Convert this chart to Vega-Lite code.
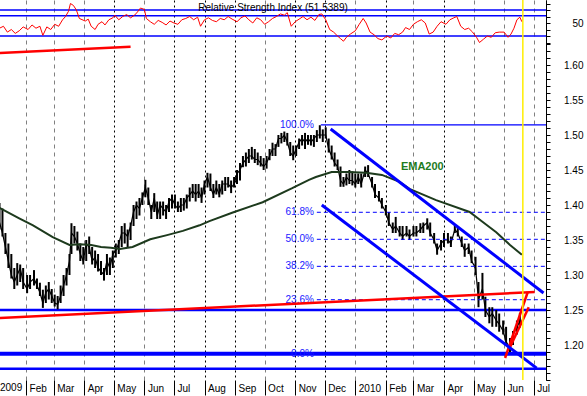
{
  "$schema": "https://vega.github.io/schema/vega-lite/v6.json",
  "width": 546,
  "height": 380,
  "autosize": {"type": "none"},
  "padding": {"left": 0, "top": 0, "right": 41, "bottom": 16},
  "background": "white",
  "config": {
    "view": {"stroke": null},
    "axis": {"labelFont": "Liberation Sans", "labelFontSize": 10, "labelColor": "black"},
    "text": {"font": "Liberation Sans"}
  },
  "resolve": {"scale": {"y": "independent"}, "axis": {"y": "independent"}},
  "datasets": {
    "price": [
      {"date":"2009-01-05","lo":1.365,"hi":1.403,"c":1.375},
      {"date":"2009-01-08","lo":1.355,"hi":1.395,"c":1.36},
      {"date":"2009-01-11","lo":1.33,"hi":1.36,"c":1.34},
      {"date":"2009-01-14","lo":1.31,"hi":1.345,"c":1.32},
      {"date":"2009-01-17","lo":1.295,"hi":1.33,"c":1.30},
      {"date":"2009-01-20","lo":1.28,"hi":1.31,"c":1.29},
      {"date":"2009-01-23","lo":1.285,"hi":1.317,"c":1.30},
      {"date":"2009-01-26","lo":1.29,"hi":1.315,"c":1.31},
      {"date":"2009-01-29","lo":1.28,"hi":1.31,"c":1.29},
      {"date":"2009-02-02","lo":1.274,"hi":1.30,"c":1.28},
      {"date":"2009-02-05","lo":1.28,"hi":1.30,"c":1.29},
      {"date":"2009-02-09","lo":1.285,"hi":1.307,"c":1.295},
      {"date":"2009-02-12","lo":1.28,"hi":1.295,"c":1.285},
      {"date":"2009-02-15","lo":1.27,"hi":1.289,"c":1.275},
      {"date":"2009-02-18","lo":1.253,"hi":1.279,"c":1.26},
      {"date":"2009-02-21","lo":1.26,"hi":1.285,"c":1.275},
      {"date":"2009-02-24","lo":1.265,"hi":1.29,"c":1.28},
      {"date":"2009-02-27","lo":1.26,"hi":1.28,"c":1.27},
      {"date":"2009-03-02","lo":1.255,"hi":1.272,"c":1.26},
      {"date":"2009-03-05","lo":1.251,"hi":1.27,"c":1.258},
      {"date":"2009-03-08","lo":1.26,"hi":1.285,"c":1.27},
      {"date":"2009-03-11","lo":1.27,"hi":1.30,"c":1.285},
      {"date":"2009-03-14","lo":1.285,"hi":1.31,"c":1.30},
      {"date":"2009-03-17","lo":1.30,"hi":1.33,"c":1.32},
      {"date":"2009-03-19","lo":1.33,"hi":1.374,"c":1.36},
      {"date":"2009-03-22","lo":1.345,"hi":1.37,"c":1.355},
      {"date":"2009-03-25","lo":1.335,"hi":1.362,"c":1.345},
      {"date":"2009-03-28","lo":1.32,"hi":1.345,"c":1.33},
      {"date":"2009-03-31","lo":1.315,"hi":1.34,"c":1.32},
      {"date":"2009-04-03","lo":1.32,"hi":1.35,"c":1.345},
      {"date":"2009-04-06","lo":1.33,"hi":1.355,"c":1.34},
      {"date":"2009-04-09","lo":1.315,"hi":1.34,"c":1.32},
      {"date":"2009-04-12","lo":1.31,"hi":1.335,"c":1.325},
      {"date":"2009-04-15","lo":1.305,"hi":1.33,"c":1.31},
      {"date":"2009-04-18","lo":1.30,"hi":1.32,"c":1.305},
      {"date":"2009-04-21","lo":1.292,"hi":1.31,"c":1.30},
      {"date":"2009-04-24","lo":1.30,"hi":1.33,"c":1.32},
      {"date":"2009-04-27","lo":1.30,"hi":1.325,"c":1.31},
      {"date":"2009-04-30","lo":1.31,"hi":1.335,"c":1.33},
      {"date":"2009-05-03","lo":1.325,"hi":1.345,"c":1.335},
      {"date":"2009-05-06","lo":1.33,"hi":1.35,"c":1.345},
      {"date":"2009-05-09","lo":1.34,"hi":1.37,"c":1.36},
      {"date":"2009-05-12","lo":1.345,"hi":1.374,"c":1.36},
      {"date":"2009-05-15","lo":1.34,"hi":1.365,"c":1.355},
      {"date":"2009-05-18","lo":1.35,"hi":1.375,"c":1.37},
      {"date":"2009-05-21","lo":1.37,"hi":1.40,"c":1.39},
      {"date":"2009-05-24","lo":1.38,"hi":1.405,"c":1.40},
      {"date":"2009-05-27","lo":1.385,"hi":1.41,"c":1.395},
      {"date":"2009-05-30","lo":1.40,"hi":1.418,"c":1.41},
      {"date":"2009-06-02","lo":1.411,"hi":1.436,"c":1.425},
      {"date":"2009-06-05","lo":1.40,"hi":1.425,"c":1.41},
      {"date":"2009-06-08","lo":1.38,"hi":1.40,"c":1.39},
      {"date":"2009-06-11","lo":1.39,"hi":1.417,"c":1.41},
      {"date":"2009-06-14","lo":1.38,"hi":1.405,"c":1.385},
      {"date":"2009-06-17","lo":1.38,"hi":1.405,"c":1.40},
      {"date":"2009-06-20","lo":1.385,"hi":1.405,"c":1.395},
      {"date":"2009-06-23","lo":1.38,"hi":1.40,"c":1.39},
      {"date":"2009-06-26","lo":1.39,"hi":1.41,"c":1.405},
      {"date":"2009-06-29","lo":1.395,"hi":1.415,"c":1.41},
      {"date":"2009-07-02","lo":1.395,"hi":1.415,"c":1.40},
      {"date":"2009-07-05","lo":1.39,"hi":1.405,"c":1.395},
      {"date":"2009-07-08","lo":1.39,"hi":1.41,"c":1.40},
      {"date":"2009-07-11","lo":1.392,"hi":1.41,"c":1.40},
      {"date":"2009-07-14","lo":1.395,"hi":1.415,"c":1.41},
      {"date":"2009-07-17","lo":1.405,"hi":1.425,"c":1.415},
      {"date":"2009-07-20","lo":1.41,"hi":1.43,"c":1.42},
      {"date":"2009-07-23","lo":1.405,"hi":1.43,"c":1.415},
      {"date":"2009-07-26","lo":1.41,"hi":1.43,"c":1.42},
      {"date":"2009-07-29","lo":1.403,"hi":1.425,"c":1.41},
      {"date":"2009-08-01","lo":1.415,"hi":1.435,"c":1.43},
      {"date":"2009-08-04","lo":1.425,"hi":1.446,"c":1.44},
      {"date":"2009-08-07","lo":1.42,"hi":1.445,"c":1.425},
      {"date":"2009-08-10","lo":1.41,"hi":1.43,"c":1.415},
      {"date":"2009-08-13","lo":1.415,"hi":1.435,"c":1.425},
      {"date":"2009-08-16","lo":1.411,"hi":1.43,"c":1.415},
      {"date":"2009-08-19","lo":1.415,"hi":1.435,"c":1.43},
      {"date":"2009-08-22","lo":1.42,"hi":1.44,"c":1.43},
      {"date":"2009-08-25","lo":1.425,"hi":1.44,"c":1.43},
      {"date":"2009-08-28","lo":1.417,"hi":1.435,"c":1.425},
      {"date":"2009-08-31","lo":1.425,"hi":1.44,"c":1.43},
      {"date":"2009-09-03","lo":1.43,"hi":1.45,"c":1.445},
      {"date":"2009-09-06","lo":1.435,"hi":1.46,"c":1.45},
      {"date":"2009-09-09","lo":1.454,"hi":1.47,"c":1.46},
      {"date":"2009-09-12","lo":1.455,"hi":1.475,"c":1.465},
      {"date":"2009-09-15","lo":1.46,"hi":1.48,"c":1.47},
      {"date":"2009-09-18","lo":1.465,"hi":1.483,"c":1.47},
      {"date":"2009-09-21","lo":1.46,"hi":1.48,"c":1.465},
      {"date":"2009-09-24","lo":1.457,"hi":1.475,"c":1.465},
      {"date":"2009-09-27","lo":1.455,"hi":1.47,"c":1.46},
      {"date":"2009-09-30","lo":1.45,"hi":1.467,"c":1.455},
      {"date":"2009-10-03","lo":1.452,"hi":1.47,"c":1.46},
      {"date":"2009-10-06","lo":1.464,"hi":1.48,"c":1.47},
      {"date":"2009-10-09","lo":1.47,"hi":1.489,"c":1.48},
      {"date":"2009-10-12","lo":1.47,"hi":1.487,"c":1.48},
      {"date":"2009-10-15","lo":1.483,"hi":1.50,"c":1.495},
      {"date":"2009-10-18","lo":1.488,"hi":1.503,"c":1.495},
      {"date":"2009-10-21","lo":1.49,"hi":1.505,"c":1.50},
      {"date":"2009-10-24","lo":1.485,"hi":1.503,"c":1.49},
      {"date":"2009-10-27","lo":1.47,"hi":1.49,"c":1.475},
      {"date":"2009-10-30","lo":1.464,"hi":1.485,"c":1.47},
      {"date":"2009-11-02","lo":1.47,"hi":1.485,"c":1.48},
      {"date":"2009-11-05","lo":1.48,"hi":1.495,"c":1.49},
      {"date":"2009-11-08","lo":1.485,"hi":1.50,"c":1.495},
      {"date":"2009-11-11","lo":1.48,"hi":1.503,"c":1.49},
      {"date":"2009-11-14","lo":1.486,"hi":1.50,"c":1.495},
      {"date":"2009-11-17","lo":1.485,"hi":1.50,"c":1.49},
      {"date":"2009-11-20","lo":1.483,"hi":1.50,"c":1.495},
      {"date":"2009-11-23","lo":1.49,"hi":1.507,"c":1.50},
      {"date":"2009-11-26","lo":1.495,"hi":1.514,"c":1.50},
      {"date":"2009-11-29","lo":1.49,"hi":1.508,"c":1.50},
      {"date":"2009-12-02","lo":1.495,"hi":1.511,"c":1.50},
      {"date":"2009-12-05","lo":1.475,"hi":1.495,"c":1.48},
      {"date":"2009-12-08","lo":1.465,"hi":1.485,"c":1.47},
      {"date":"2009-12-11","lo":1.455,"hi":1.475,"c":1.46},
      {"date":"2009-12-14","lo":1.45,"hi":1.465,"c":1.455},
      {"date":"2009-12-17","lo":1.426,"hi":1.455,"c":1.435},
      {"date":"2009-12-20","lo":1.426,"hi":1.44,"c":1.43},
      {"date":"2009-12-23","lo":1.428,"hi":1.445,"c":1.44},
      {"date":"2009-12-26","lo":1.43,"hi":1.45,"c":1.435},
      {"date":"2009-12-29","lo":1.428,"hi":1.448,"c":1.435},
      {"date":"2010-01-01","lo":1.425,"hi":1.445,"c":1.43},
      {"date":"2010-01-04","lo":1.43,"hi":1.445,"c":1.44},
      {"date":"2010-01-07","lo":1.425,"hi":1.445,"c":1.43},
      {"date":"2010-01-11","lo":1.44,"hi":1.455,"c":1.45},
      {"date":"2010-01-14","lo":1.44,"hi":1.457,"c":1.445},
      {"date":"2010-01-18","lo":1.425,"hi":1.44,"c":1.43},
      {"date":"2010-01-21","lo":1.41,"hi":1.43,"c":1.415},
      {"date":"2010-01-25","lo":1.405,"hi":1.42,"c":1.41},
      {"date":"2010-01-28","lo":1.395,"hi":1.41,"c":1.40},
      {"date":"2010-02-01","lo":1.385,"hi":1.40,"c":1.39},
      {"date":"2010-02-04","lo":1.37,"hi":1.39,"c":1.375},
      {"date":"2010-02-08","lo":1.36,"hi":1.375,"c":1.365},
      {"date":"2010-02-11","lo":1.36,"hi":1.383,"c":1.37},
      {"date":"2010-02-15","lo":1.355,"hi":1.37,"c":1.36},
      {"date":"2010-02-18","lo":1.35,"hi":1.37,"c":1.355},
      {"date":"2010-02-22","lo":1.355,"hi":1.37,"c":1.36},
      {"date":"2010-02-25","lo":1.35,"hi":1.365,"c":1.355},
      {"date":"2010-03-01","lo":1.355,"hi":1.37,"c":1.36},
      {"date":"2010-03-04","lo":1.355,"hi":1.37,"c":1.36},
      {"date":"2010-03-08","lo":1.36,"hi":1.374,"c":1.365},
      {"date":"2010-03-11","lo":1.36,"hi":1.375,"c":1.37},
      {"date":"2010-03-15","lo":1.365,"hi":1.381,"c":1.375},
      {"date":"2010-03-18","lo":1.355,"hi":1.375,"c":1.36},
      {"date":"2010-03-22","lo":1.345,"hi":1.36,"c":1.35},
      {"date":"2010-03-25","lo":1.329,"hi":1.345,"c":1.335},
      {"date":"2010-03-29","lo":1.335,"hi":1.35,"c":1.345},
      {"date":"2010-04-01","lo":1.34,"hi":1.36,"c":1.35},
      {"date":"2010-04-05","lo":1.345,"hi":1.36,"c":1.35},
      {"date":"2010-04-08","lo":1.34,"hi":1.355,"c":1.345},
      {"date":"2010-04-12","lo":1.36,"hi":1.371,"c":1.365},
      {"date":"2010-04-15","lo":1.355,"hi":1.37,"c":1.36},
      {"date":"2010-04-19","lo":1.34,"hi":1.355,"c":1.345},
      {"date":"2010-04-22","lo":1.326,"hi":1.345,"c":1.335},
      {"date":"2010-04-26","lo":1.33,"hi":1.345,"c":1.34},
      {"date":"2010-04-29","lo":1.317,"hi":1.335,"c":1.32},
      {"date":"2010-05-03","lo":1.30,"hi":1.326,"c":1.31},
      {"date":"2010-05-06","lo":1.254,"hi":1.29,"c":1.265},
      {"date":"2010-05-10","lo":1.265,"hi":1.303,"c":1.28},
      {"date":"2010-05-13","lo":1.24,"hi":1.269,"c":1.25},
      {"date":"2010-05-17","lo":1.231,"hi":1.254,"c":1.24},
      {"date":"2010-05-20","lo":1.226,"hi":1.254,"c":1.245},
      {"date":"2010-05-24","lo":1.226,"hi":1.25,"c":1.235},
      {"date":"2010-05-27","lo":1.219,"hi":1.245,"c":1.23},
      {"date":"2010-05-31","lo":1.215,"hi":1.235,"c":1.22},
      {"date":"2010-06-03","lo":1.20,"hi":1.226,"c":1.205},
      {"date":"2010-06-07","lo":1.19,"hi":1.21,"c":1.195},
      {"date":"2010-06-10","lo":1.20,"hi":1.22,"c":1.215},
      {"date":"2010-06-14","lo":1.215,"hi":1.235,"c":1.225},
      {"date":"2010-06-17","lo":1.225,"hi":1.246,"c":1.235}
    ],
    "ema": [
      {"date":"2009-01-05","v":1.396},
      {"date":"2009-01-25","v":1.381},
      {"date":"2009-02-08","v":1.371},
      {"date":"2009-02-28","v":1.354},
      {"date":"2009-03-17","v":1.343},
      {"date":"2009-03-27","v":1.344},
      {"date":"2009-04-08","v":1.343},
      {"date":"2009-04-18","v":1.340},
      {"date":"2009-04-28","v":1.339},
      {"date":"2009-05-07","v":1.337},
      {"date":"2009-05-20","v":1.340},
      {"date":"2009-06-07","v":1.351},
      {"date":"2009-06-24","v":1.357},
      {"date":"2009-07-10","v":1.363},
      {"date":"2009-07-27","v":1.371},
      {"date":"2009-08-06","v":1.377},
      {"date":"2009-08-29","v":1.389},
      {"date":"2009-09-29","v":1.404},
      {"date":"2009-10-29","v":1.424},
      {"date":"2009-11-15","v":1.436},
      {"date":"2009-11-22","v":1.440},
      {"date":"2009-12-08","v":1.447},
      {"date":"2009-12-25","v":1.447},
      {"date":"2010-01-12","v":1.446},
      {"date":"2010-01-28","v":1.443},
      {"date":"2010-02-15","v":1.433},
      {"date":"2010-02-25","v":1.423},
      {"date":"2010-03-24","v":1.407},
      {"date":"2010-04-27","v":1.390},
      {"date":"2010-05-10","v":1.376},
      {"date":"2010-05-24","v":1.361},
      {"date":"2010-06-07","v":1.343},
      {"date":"2010-06-19","v":1.329}
    ],
    "rsi": [
      {"date":"2009-01-05","r":42},{"date":"2009-01-09","r":45},{"date":"2009-01-13","r":36},
      {"date":"2009-01-17","r":40},{"date":"2009-01-21","r":34},{"date":"2009-01-25","r":38},
      {"date":"2009-01-29","r":44},{"date":"2009-02-03","r":40},{"date":"2009-02-07","r":47},
      {"date":"2009-02-11","r":42},{"date":"2009-02-15","r":45},{"date":"2009-02-18","r":31},
      {"date":"2009-02-22","r":44},{"date":"2009-02-26","r":40},{"date":"2009-03-02","r":48},
      {"date":"2009-03-06","r":45},{"date":"2009-03-10","r":55},{"date":"2009-03-13","r":60},
      {"date":"2009-03-16","r":68},{"date":"2009-03-18","r":80},{"date":"2009-03-21","r":77},
      {"date":"2009-03-24","r":70},{"date":"2009-03-27","r":57},{"date":"2009-04-02","r":53},
      {"date":"2009-04-05","r":56},{"date":"2009-04-08","r":45},{"date":"2009-04-12","r":40},
      {"date":"2009-04-15","r":48},{"date":"2009-04-19","r":52},{"date":"2009-04-22","r":47},
      {"date":"2009-04-26","r":55},{"date":"2009-04-30","r":58},{"date":"2009-05-02","r":62},
      {"date":"2009-05-06","r":55},{"date":"2009-05-10","r":60},{"date":"2009-05-14","r":63},
      {"date":"2009-05-18","r":58},{"date":"2009-05-22","r":62},{"date":"2009-05-25","r":67},
      {"date":"2009-05-28","r":73},{"date":"2009-06-01","r":71},{"date":"2009-06-03","r":57},
      {"date":"2009-06-07","r":52},{"date":"2009-06-11","r":48},{"date":"2009-06-15","r":54},
      {"date":"2009-06-19","r":51},{"date":"2009-06-23","r":47},{"date":"2009-06-27","r":53},
      {"date":"2009-07-01","r":50},{"date":"2009-07-05","r":48},{"date":"2009-07-09","r":55},
      {"date":"2009-07-13","r":57},{"date":"2009-07-17","r":60},{"date":"2009-07-21","r":55},
      {"date":"2009-07-25","r":59},{"date":"2009-07-28","r":45},{"date":"2009-08-01","r":55},
      {"date":"2009-08-05","r":58},{"date":"2009-08-09","r":54},{"date":"2009-08-13","r":52},
      {"date":"2009-08-17","r":57},{"date":"2009-08-21","r":55},{"date":"2009-08-25","r":60},
      {"date":"2009-08-29","r":56},{"date":"2009-09-03","r":52},{"date":"2009-09-07","r":58},
      {"date":"2009-09-11","r":61},{"date":"2009-09-15","r":55},{"date":"2009-09-19","r":50},
      {"date":"2009-09-23","r":58},{"date":"2009-09-27","r":55},{"date":"2009-10-01","r":48},
      {"date":"2009-10-05","r":52},{"date":"2009-10-09","r":57},{"date":"2009-10-13","r":60},
      {"date":"2009-10-17","r":64},{"date":"2009-10-21","r":62},{"date":"2009-10-24","r":66},
      {"date":"2009-10-28","r":45},{"date":"2009-11-01","r":52},{"date":"2009-11-05","r":56},
      {"date":"2009-11-09","r":60},{"date":"2009-11-13","r":55},{"date":"2009-11-17","r":59},
      {"date":"2009-11-21","r":54},{"date":"2009-11-25","r":63},{"date":"2009-11-28","r":64},
      {"date":"2009-12-02","r":55},{"date":"2009-12-06","r":40},{"date":"2009-12-10","r":36},
      {"date":"2009-12-14","r":30},{"date":"2009-12-17","r":26},{"date":"2009-12-20","r":22},
      {"date":"2009-12-23","r":28},{"date":"2009-12-27","r":33},{"date":"2010-01-01","r":38},
      {"date":"2010-01-05","r":48},{"date":"2010-01-09","r":57},{"date":"2010-01-12","r":50},
      {"date":"2010-01-16","r":36},{"date":"2010-01-20","r":32},{"date":"2010-01-24","r":26},
      {"date":"2010-01-28","r":24},{"date":"2010-02-02","r":30},{"date":"2010-02-06","r":27},
      {"date":"2010-02-10","r":34},{"date":"2010-02-14","r":32},{"date":"2010-02-18","r":36},
      {"date":"2010-02-21","r":43},{"date":"2010-02-25","r":40},{"date":"2010-03-01","r":48},
      {"date":"2010-03-05","r":52},{"date":"2010-03-09","r":55},{"date":"2010-03-13","r":50},
      {"date":"2010-03-17","r":33},{"date":"2010-03-21","r":36},{"date":"2010-03-25","r":45},
      {"date":"2010-03-29","r":52},{"date":"2010-04-03","r":48},{"date":"2010-04-07","r":55},
      {"date":"2010-04-11","r":58},{"date":"2010-04-14","r":60},{"date":"2010-04-18","r":45},
      {"date":"2010-04-22","r":40},{"date":"2010-04-26","r":42},{"date":"2010-04-30","r":36},
      {"date":"2010-05-04","r":28},{"date":"2010-05-07","r":20},{"date":"2010-05-11","r":25},
      {"date":"2010-05-15","r":30},{"date":"2010-05-19","r":28},{"date":"2010-05-23","r":35},
      {"date":"2010-05-27","r":36},{"date":"2010-06-01","r":36},{"date":"2010-06-05","r":28},
      {"date":"2010-06-08","r":33},{"date":"2010-06-11","r":42},{"date":"2010-06-14","r":55},
      {"date":"2010-06-17","r":59},{"date":"2010-06-19","r":52}
    ],
    "fib": [
      {"label":"100.0%","p":1.5144},
      {"label":"61.8%","p":1.3896},
      {"label":"50.0%","p":1.351},
      {"label":"38.2%","p":1.3124},
      {"label":"23.6%","p":1.2647},
      {"label":"0.0%","p":1.1876}
    ],
    "trend_blue": [
      {"line":"upper","date":"2009-12-07","p":1.5086},
      {"line":"upper","date":"2010-07-11","p":1.2743},
      {"line":"lower","date":"2009-11-28","p":1.400},
      {"line":"lower","date":"2010-07-04","p":1.167}
    ],
    "trend_red": [
      {"line":"support","date":"2009-01-05","p":1.2386},
      {"line":"support","date":"2010-07-02","p":1.2757},
      {"line":"top","date":"2009-01-05","p":1.617},
      {"line":"top","date":"2009-05-18","p":1.626},
      {"line":"wedgeA","date":"2010-06-02","p":1.1814},
      {"line":"wedgeA","date":"2010-06-25","p":1.2757},
      {"line":"wedgeB","date":"2010-06-07","p":1.197},
      {"line":"wedgeB","date":"2010-06-26","p":1.254}
    ]
  },
  "layer": [
    {
      "layer": [
        {
          "data": {"values": [{"lvl": 70}, {"lvl": 61}, {"lvl": 30}]},
          "mark": {"type": "rule", "color": "#0000ff", "strokeWidth": 1.5},
          "encoding": {
            "y": {"field": "lvl", "type": "quantitative", "title": null,
              "scale": {"domain": [-499.2, 85.4], "nice": false, "zero": false},
              "axis": {"orient": "right", "title": null, "values": [20, 30, 40, 50, 60, 70, 80], "tickCount": 50,
                "labelExpr": "datum.value == 50 ? '50' : ''", "tickSize": 4, "tickColor": "black",
                "domainColor": "black", "labelAlign": "right", "labelPadding": 33, "grid": false,
                "labelOverlap": false, "labelFlush": false, "labelBound": false}}
          }
        },
        {
          "data": {"name": "rsi"},
          "mark": {"type": "line", "color": "#ff0000", "strokeWidth": 1},
          "encoding": {
            "x": {"field": "date", "type": "temporal", "title": null},
            "y": {"field": "r", "type": "quantitative", "title": null}
          }
        },
        {
          "data": {"values": [{"t": "Relative Strength Index (51.5389)"}]},
          "mark": {"type": "text", "fontSize": 10, "color": "black", "align": "center", "baseline": "middle"},
          "encoding": {
            "text": {"field": "t"},
            "x": {"datum": {"year": 2009, "month": 10, "date": 9, "hours": 12}, "type": "temporal", "title": null},
            "y": {"datum": 73, "type": "quantitative", "title": null}
          }
        }
      ]
    },
    {
      "layer": [
        {
          "data": {"values": [{"p": 1.25}, {"p": 1.166}]},
          "mark": {"type": "rule", "color": "#0000ff", "strokeWidth": 2.5},
          "encoding": {
            "y": {"field": "p", "type": "quantitative", "title": null,
              "scale": {"domain": [1.15, 1.6929], "nice": false, "zero": false},
              "axis": {"orient": "right", "title": null, "tickCount": 200,
                "values": [1.15,1.16,1.17,1.18,1.19,1.2,1.21,1.22,1.23,1.24,1.25,1.26,1.27,1.28,1.29,1.3,1.31,1.32,1.33,1.34,1.35,1.36,1.37,1.38,1.39,1.4,1.41,1.42,1.43,1.44,1.45,1.46,1.47,1.48,1.49,1.5,1.51,1.52,1.53,1.54,1.55,1.56,1.57,1.58,1.59,1.6,1.61,1.62,1.63],
                "labelExpr": "(datum.value > 1.17 && datum.value < 1.62 && abs(round(datum.value*100) % 5) == 0) ? format(datum.value, '.2f') : ''",
                "tickSize": 4, "tickColor": "black", "domainColor": "black", "labelAlign": "right", "labelPadding": 33,
                "grid": false, "labelOverlap": false, "labelFlush": false, "labelBound": false}}
          }
        },
        {
          "data": {"values": [{"p": 1.1876}]},
          "mark": {"type": "rule", "color": "#0000ff", "strokeWidth": 4},
          "encoding": {"y": {"field": "p", "type": "quantitative", "title": null}}
        },
        {
          "data": {"name": "price"},
          "mark": {"type": "rule", "color": "black", "strokeWidth": 2},
          "encoding": {
            "x": {"field": "date", "type": "temporal", "title": null,
              "scale": {"domain": [{"year": 2009, "month": 1, "date": 5, "hours": 12}, {"year": 2010, "month": 7, "date": 13, "hours": 12}], "nice": false},
              "axis": {"title": null, "orient": "bottom", "domain": false, "grid": true, "tickCount": 60,
                "values": [{"year":2009,"month":2,"date":1},{"year":2009,"month":3,"date":1},{"year":2009,"month":4,"date":1},{"year":2009,"month":5,"date":1},{"year":2009,"month":6,"date":1},{"year":2009,"month":7,"date":1},{"year":2009,"month":8,"date":1},{"year":2009,"month":9,"date":1},{"year":2009,"month":10,"date":1},{"year":2009,"month":11,"date":1},{"year":2009,"month":12,"date":1},{"year":2010,"month":1,"date":1},{"year":2010,"month":2,"date":1},{"year":2010,"month":3,"date":1},{"year":2010,"month":4,"date":1},{"year":2010,"month":5,"date":1},{"year":2010,"month":6,"date":1},{"year":2010,"month":7,"date":1}],
                "gridColor": {"condition": {"test": "indexof([4,6,7,8,10,11,13,15], (year(datum.value)-2009)*12+month(datum.value)) >= 0", "value": "#000000"}, "value": "#808080"},
                "gridDash": {"condition": {"test": "indexof([4,6,7,8,10,11,13,15], (year(datum.value)-2009)*12+month(datum.value)) >= 0", "value": [2, 3]}, "value": [4, 4]},
                "ticks": true, "tickSize": 15, "tickColor": "black", "tickWidth": 1,
                "labelExpr": "month(datum.value) == 0 ? timeFormat(datum.value, '%Y') : timeFormat(datum.value, '%b')",
                "labelAlign": "left", "labelBaseline": "top", "labelPadding": -12, "labelOffset": 3,
                "labelFlush": false, "labelOverlap": false, "labelBound": false}},
            "y": {"field": "lo", "type": "quantitative", "title": null},
            "y2": {"field": "hi"}
          }
        },
        {
          "data": {"name": "price"},
          "mark": {"type": "line", "color": "black", "strokeWidth": 1.2},
          "encoding": {
            "x": {"field": "date", "type": "temporal", "title": null},
            "y": {"field": "c", "type": "quantitative", "title": null}
          }
        },
        {
          "data": {"name": "fib"},
          "transform": [{"filter": "datum.p < 1.5 && datum.p > 1.2"}],
          "mark": {"type": "rule", "color": "#0000ff", "strokeWidth": 1, "strokeDash": [4, 3]},
          "encoding": {
            "x": {"datum": {"year": 2009, "month": 11, "date": 23}, "type": "temporal", "title": null},
            "x2": {"datum": {"year": 2010, "month": 7, "date": 13, "hours": 12}},
            "y": {"field": "p", "type": "quantitative", "title": null}
          }
        },
        {
          "data": {"name": "fib"},
          "transform": [{"filter": "datum.p > 1.5"}],
          "mark": {"type": "rule", "color": "#0000ff", "strokeWidth": 1.2},
          "encoding": {
            "x": {"datum": {"year": 2009, "month": 11, "date": 27}, "type": "temporal", "title": null},
            "x2": {"datum": {"year": 2010, "month": 7, "date": 13, "hours": 12}},
            "y": {"field": "p", "type": "quantitative", "title": null}
          }
        },
        {
          "data": {"name": "fib"},
          "mark": {"type": "text", "color": "#1a1aff", "fontSize": 10, "align": "right", "baseline": "middle"},
          "encoding": {
            "x": {"datum": {"year": 2009, "month": 11, "date": 20}, "type": "temporal", "title": null},
            "y": {"field": "p", "type": "quantitative", "title": null},
            "text": {"field": "label"}
          }
        },
        {
          "data": {"name": "ema"},
          "mark": {"type": "line", "color": "#1d3a1d", "strokeWidth": 2},
          "encoding": {
            "x": {"field": "date", "type": "temporal", "title": null},
            "y": {"field": "v", "type": "quantitative", "title": null}
          }
        },
        {
          "data": {"name": "trend_red"},
          "mark": {"type": "line", "color": "#ff0000", "strokeWidth": 2.5},
          "encoding": {
            "x": {"field": "date", "type": "temporal", "title": null},
            "y": {"field": "p", "type": "quantitative", "title": null},
            "detail": {"field": "line"}
          }
        },
        {
          "data": {"name": "trend_blue"},
          "mark": {"type": "line", "color": "#0000ff", "strokeWidth": 3},
          "encoding": {
            "x": {"field": "date", "type": "temporal", "title": null},
            "y": {"field": "p", "type": "quantitative", "title": null},
            "detail": {"field": "line"}
          }
        },
        {
          "data": {"values": [{"t": "EMA200", "date": "2010-03-10", "p": 1.454}]},
          "mark": {"type": "text", "color": "#1e7b1e", "fontSize": 11, "fontWeight": "bold", "align": "center", "baseline": "middle"},
          "encoding": {
            "x": {"field": "date", "type": "temporal", "title": null},
            "y": {"field": "p", "type": "quantitative", "title": null},
            "text": {"field": "t"}
          }
        },
        {
          "data": {"values": [{"t": "2009", "date": "2009-01-05T12:00:00", "p": 1.15}]},
          "mark": {"type": "text", "color": "black", "fontSize": 10, "align": "left", "baseline": "top", "dy": 3},
          "encoding": {
            "x": {"field": "date", "type": "temporal", "title": null},
            "y": {"field": "p", "type": "quantitative", "title": null},
            "text": {"field": "t"}
          }
        },
        {
          "data": {"values": [{}]},
          "mark": {"type": "rule", "color": "#ffee00", "strokeWidth": 1.5},
          "encoding": {"x": {"datum": {"year": 2010, "month": 6, "date": 20}, "type": "temporal", "title": null}}
        }
      ]
    }
  ]
}
